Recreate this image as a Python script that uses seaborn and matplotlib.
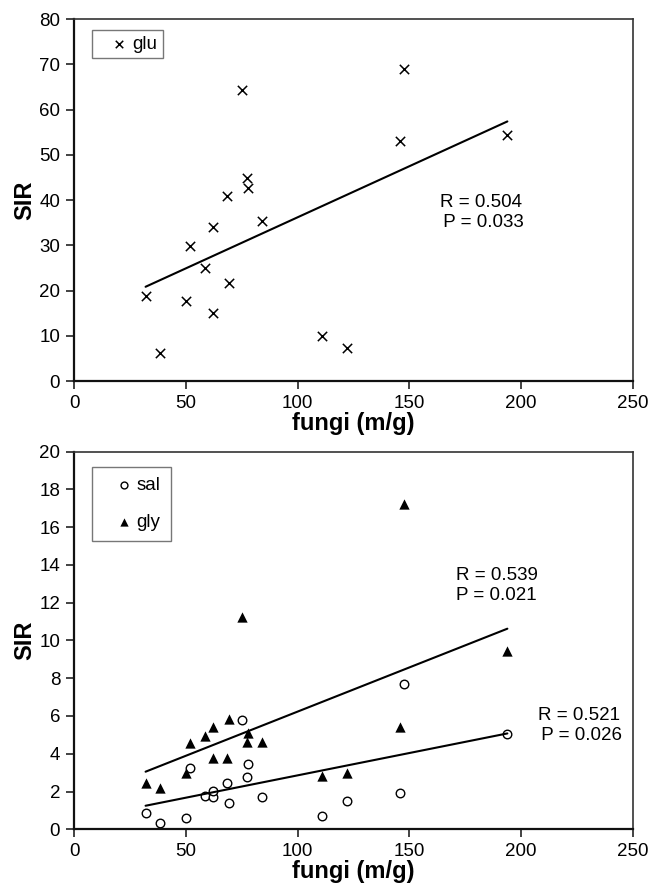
import numpy as np
import pandas as pd
import matplotlib
matplotlib.use("Agg")
import matplotlib.pyplot as plt
import seaborn as sns

# datos (18 muestras, misma biomasa de hongos)
fungi = [32, 38.5, 50, 52, 58.6, 62, 62.3, 68.3, 69.5, 75, 77.4, 78, 84, 111, 122, 145.6, 147.4, 193.8]
glu = [18.8, 6.1, 17.7, 29.9, 24.9, 15.1, 34.1, 40.9, 21.6, 64.3, 44.8, 42.6, 35.4, 9.9, 7.4, 53.0, 68.9, 54.4]
sal = [0.85, 0.32, 0.62, 3.23, 1.76, 1.69, 2.05, 2.43, 1.41, 5.77, 2.75, 3.46, 1.73, 0.70, 1.50, 1.94, 7.70, 5.03]
gly = [2.43, 2.17, 3.0, 4.59, 4.94, 5.43, 3.76, 3.76, 5.83, 11.26, 4.62, 5.08, 4.64, 2.82, 3.0, 5.40, 17.23, 9.44]

df = pd.DataFrame({'fungi': fungi, 'glu': glu, 'sal': sal, 'gly': gly})

sns.set_style("ticks")
plt.rcParams['font.family'] = ['Liberation Sans', 'DejaVu Sans']
plt.rcParams['text.color'] = 'black'
plt.rcParams['axes.labelcolor'] = 'black'
plt.rcParams['xtick.color'] = 'black'
plt.rcParams['ytick.color'] = 'black'

fs = 13.5  # tamaño de letra de ticks, leyenda y textos

fig = plt.figure(figsize=(6.51, 8.94), dpi=100)
ax1 = fig.add_axes([0.1137, 0.5738, 0.8587, 0.4049])
ax2 = fig.add_axes([0.1137, 0.0724, 0.8587, 0.4225])

# grafico de arriba: glu
sns.scatterplot(data=df, x='fungi', y='glu', marker='x', color='black', s=45,
                linewidth=1.1, label='glu', ax=ax1)
sns.regplot(data=df, x='fungi', y='glu', scatter=False, ci=None, ax=ax1,
            line_kws={'color': 'black', 'lw': 1.5})
ax1.text(182, 37.3, 'R = 0.504\n P = 0.033', ha='center', va='center', fontsize=fs)
ax1.set_ylim(0, 80)
ax1.set_yticks(range(0, 81, 10))

# grafico de abajo: sal y gly
sns.scatterplot(data=df, x='fungi', y='sal', marker='o', facecolor='white', edgecolor='black',
                s=38, linewidth=1.0, label='sal', ax=ax2)
sns.scatterplot(data=df, x='fungi', y='gly', marker='^', color='black', s=55,
                linewidth=0, label='gly', ax=ax2)
sns.regplot(data=df, x='fungi', y='gly', scatter=False, ci=None, ax=ax2,
            line_kws={'color': 'black', 'lw': 1.5})
sns.regplot(data=df, x='fungi', y='sal', scatter=False, ci=None, ax=ax2,
            line_kws={'color': 'black', 'lw': 1.5})
ax2.text(189, 12.9, 'R = 0.539\nP = 0.021', ha='center', va='center', fontsize=fs)
ax2.text(225.7, 5.5, 'R = 0.521\n P = 0.026', ha='center', va='center', fontsize=fs)
ax2.set_ylim(0, 20)
ax2.set_yticks(range(0, 21, 2))

for ax in (ax1, ax2):
    ax.set_xlim(0, 250)
    ax.set_xticks(range(0, 251, 50))
    ax.set_xlabel('fungi (m/g)', fontsize=17, fontweight='bold', labelpad=0)
    ax.set_ylabel('SIR', fontsize=17, fontweight='bold', labelpad=2)
    ax.tick_params(axis='both', labelsize=fs, length=6, width=1.2, color='#222222', pad=4)
    for side in ['left', 'bottom']:
        ax.spines[side].set_linewidth(1.6)
        ax.spines[side].set_color('#111111')
    for side in ['top', 'right']:
        ax.spines[side].set_visible(True)
        ax.spines[side].set_linewidth(1.2)
        ax.spines[side].set_color('#333333')

leg1 = ax1.legend(loc='upper left', fontsize=fs, frameon=True, fancybox=False,
                  handletextpad=-0.45, handlelength=2.3, borderpad=0.3, markerscale=0.8,
                  bbox_to_anchor=(0.0317, 0.9696), borderaxespad=0)
leg2 = ax2.legend(loc='upper left', fontsize=fs, frameon=True, fancybox=False,
                  handletextpad=-0.45, handlelength=2.3, borderpad=0.55, labelspacing=1.05,
                  markerscale=0.8, bbox_to_anchor=(0.0317, 0.96), borderaxespad=0)
for leg in (leg1, leg2):
    leg.get_frame().set_edgecolor('#555555')
    leg.get_frame().set_linewidth(1.0)

fig.savefig('out.png', dpi=100, facecolor='white')
